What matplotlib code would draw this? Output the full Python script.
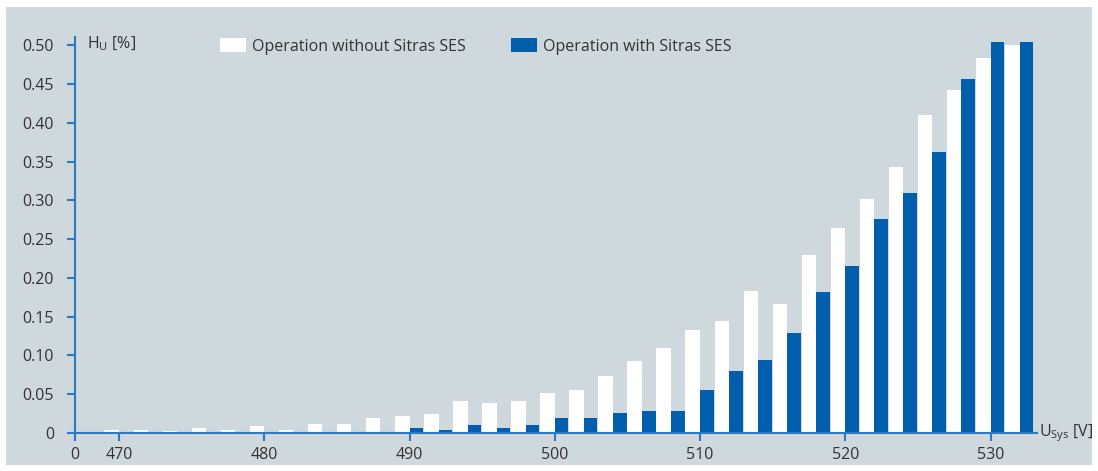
import matplotlib
matplotlib.use('Agg')
import matplotlib.pyplot as plt
from matplotlib.patches import Rectangle, Patch

# system voltage bins [V]
voltage = [470, 472, 474, 476, 478, 480, 482, 484, 486, 488,
           490, 492, 494, 496, 498, 500, 502, 504, 506, 508,
           510, 512, 514, 516, 518, 520, 522, 524, 526, 528,
           530, 532]
# frequency H_U [%]
without_ses = [0.004, 0.004, 0.002, 0.0065, 0.004, 0.0086, 0.004, 0.011, 0.011, 0.019,
               0.0215, 0.024, 0.041, 0.0386, 0.041, 0.0515, 0.056, 0.073, 0.0925, 0.11,
               0.1334, 0.1442, 0.183, 0.167, 0.229, 0.264, 0.302, 0.343, 0.41, 0.442,
               0.483, 0.50]
with_ses = [0, 0, 0, 0, 0, 0, 0, 0, 0, 0,
            0.0065, 0.0044, 0.0108, 0.0064, 0.0108, 0.0194, 0.0194, 0.0258, 0.028, 0.028,
            0.056, 0.0795, 0.0946, 0.129, 0.182, 0.216, 0.2754, 0.309, 0.3625, 0.457,
            0.5045, 0.5045]
x_ticks = [470, 480, 490, 500, 510, 520, 530]
y_ticks = [0, 0.05, 0.10, 0.15, 0.20, 0.25, 0.30, 0.35, 0.40, 0.45, 0.50]
y_labels = ['0', '0.05', '0.10', '0.15', '0.20', '0.25', '0.30', '0.35', '0.40', '0.45', '0.50']

bg = '#cfd8dd'
bar_blue = '#005eac'
axis_blue = '#2b7bc4'
txt = '#333333'

plt.rcParams['font.family'] = ['Open Sans', 'DejaVu Sans']
plt.rcParams['font.size'] = 11.5

fig = plt.figure(figsize=(10.98, 4.71), dpi=100)
fig.patches.append(Rectangle((6 / 1098, 1 - 465 / 471), 1086 / 1098, 458 / 471,
                             transform=fig.transFigure, facecolor=bg, edgecolor='none', zorder=-10))

ax = fig.add_axes([75 / 1098, 38 / 471, 962 / 1098, 396 / 471])
ax.set_facecolor('none')
ax.set_zorder(2)

ax.bar([v - 0.5 for v in voltage], without_ses, width=1.0, color='white', zorder=2)
ax.bar([v + 0.47 for v in voltage], with_ses, width=0.94, color=bar_blue, zorder=2)

x0 = 466.97
ax.set_xlim(x0, 533.2)
ax.set_ylim(0, 0.5107)

ax.set_xticks([x0] + x_ticks)
ax.set_xticklabels(['0'] + [str(t) for t in x_ticks])
ax.set_yticks(y_ticks)
ax.set_yticklabels(y_labels)

for s in ['top', 'right']:
    ax.spines[s].set_visible(False)
for s in ['left', 'bottom']:
    ax.spines[s].set_color(axis_blue)
    ax.spines[s].set_linewidth(1.5)
    ax.spines[s].set_zorder(3)
ax.tick_params(axis='both', colors=axis_blue, labelcolor=txt, width=1.5, length=6)
ax.tick_params(axis='x', pad=4)
ax.tick_params(axis='y', pad=9)

ax.text(0.012, 1.0 - 7 / 396, r'H$_\mathregular{U}$ [%]', transform=ax.transAxes,
        color=txt, va='center', ha='left')
ax.text(1.002, 0.0, r'U$_\mathregular{Sys}$ [V]', transform=ax.transAxes,
        color=txt, va='center', ha='left')

handles = [Patch(facecolor='white', edgecolor='none'),
           Patch(facecolor=bar_blue, edgecolor='none')]
fig.legend(handles, ['Operation without Sitras SES', 'Operation with Sitras SES'],
           loc='upper left', bbox_to_anchor=(217 / 1098, 1 - 35 / 471), ncol=2,
           frameon=False, handlelength=1.6, handleheight=1.0, handletextpad=0.4,
           columnspacing=2.85, labelcolor=txt, borderaxespad=0, borderpad=0.2)

fig.savefig('out.png', dpi=100, facecolor='white')
